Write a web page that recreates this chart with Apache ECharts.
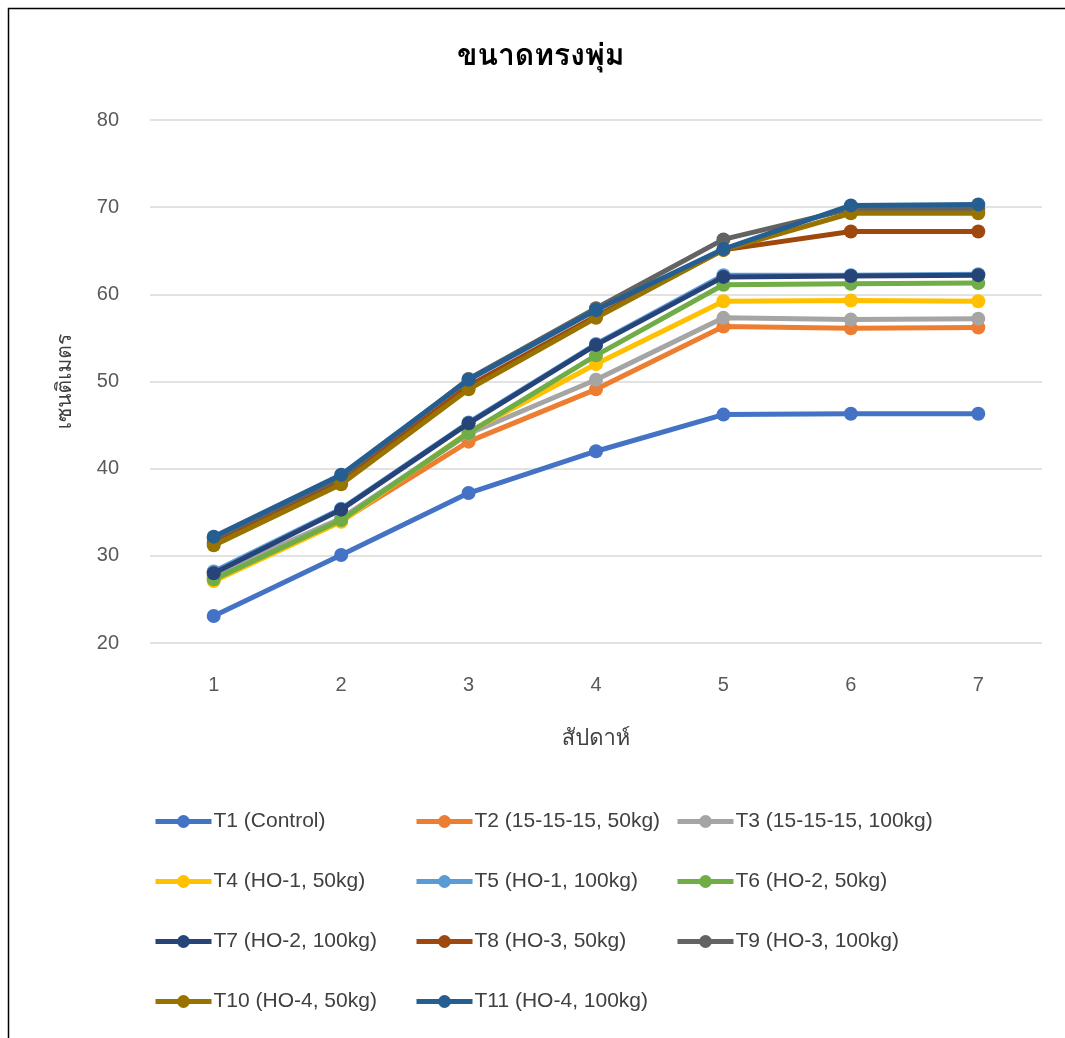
<!DOCTYPE html>
<html>
<head>
<meta charset="utf-8">
<script src="https://cdn.jsdelivr.net/npm/echarts@6/dist/echarts.min.js"></script>
<style>
  html, body { margin: 0; padding: 0; background: #fff; }
  #chart { width: 1065px; height: 1038px; }
</style>
</head>
<body>
<div id="chart"></div>
<script>
// Canopy size (cm) measured weekly for each fertilizer treatment
const weeks = ['1', '2', '3', '4', '5', '6', '7'];
const yTicks = [20, 30, 40, 50, 60, 70, 80];

const t1  = [23.1, 30.1, 37.2, 42.0, 46.2, 46.3, 46.3];
const t2  = [27.5, 34.0, 43.1, 49.1, 56.3, 56.1, 56.2];
const t3  = [27.8, 34.3, 44.0, 50.2, 57.3, 57.1, 57.2];
const t4  = [27.1, 33.9, 44.2, 52.0, 59.2, 59.3, 59.2];
const t5  = [28.2, 35.4, 45.3, 54.3, 62.2, 62.2, 62.3];
const t6  = [27.3, 34.1, 44.1, 53.0, 61.1, 61.2, 61.3];
const t7  = [28.0, 35.3, 45.2, 54.2, 62.0, 62.1, 62.2];
const t8  = [31.5, 38.5, 49.5, 57.5, 65.1, 67.2, 67.2];
const t9  = [32.0, 39.0, 50.3, 58.4, 66.3, 69.8, 69.8];
const t10 = [31.2, 38.2, 49.1, 57.3, 65.1, 69.3, 69.3];
const t11 = [32.2, 39.3, 50.2, 58.2, 65.2, 70.2, 70.3];

const seriesNames = [
  'T1 (Control)', 'T2 (15-15-15, 50kg)', 'T3 (15-15-15, 100kg)',
  'T4 (HO-1, 50kg)', 'T5 (HO-1, 100kg)', 'T6 (HO-2, 50kg)',
  'T7 (HO-2, 100kg)', 'T8 (HO-3, 50kg)', 'T9 (HO-3, 100kg)',
  'T10 (HO-4, 50kg)', 'T11 (HO-4, 100kg)'
];
const seriesValues = [t1, t2, t3, t4, t5, t6, t7, t8, t9, t10, t11];
const seriesColors = [
  '#4472C4', '#ED7D31', '#A5A5A5', '#FFC000', '#5B9BD5', '#70AD47',
  '#264478', '#9E480E', '#636363', '#997300', '#255E91'
];

const titleText = 'ขนาดทรงพุ่ม';
const xName = 'สัปดาห์';
const yName = 'เซนติเมตร';

const baseFont = '"Liberation Sans", Arial, "Noto Sans", sans-serif';
const thaiFont = 'Tahoma, Leelawadee, Loma, Garuda, "Noto Sans Thai Looped", "Noto Sans Thai", "Noto Sans", sans-serif';

const chart = echarts.init(document.getElementById('chart'), null, { renderer: 'canvas' });

const series = seriesNames.map((name, i) => ({
  name: name,
  type: 'line',
  data: seriesValues[i],
  symbol: 'circle',
  symbolSize: 14,
  showSymbol: true,
  z: 2 + i,
  lineStyle: { width: 5, color: seriesColors[i] },
  itemStyle: { color: seriesColors[i] },
  emphasis: { disabled: true }
}));

// one legend block per treatment, laid out in a 3-column grid
const legends = seriesNames.map((name, i) => ({
  data: [name],
  left: 148 + (i % 3) * 261,
  top: 806 + Math.floor(i / 3) * 60,
  itemWidth: 56,
  itemHeight: 16,
  itemGap: 0,
  selectedMode: false,
  lineStyle: { width: 5 },
  textStyle: { fontSize: 21, color: '#404040', fontFamily: baseFont, padding: [0, 0, 0, -3] }
}));

chart.setOption({
  animation: false,
  backgroundColor: '#ffffff',
  color: seriesColors,
  title: {
    text: titleText,
    left: 452,
    top: 38,
    textStyle: { fontSize: 30, fontWeight: 'bold', color: '#000', fontFamily: thaiFont }
  },
  graphic: [{
    type: 'rect',
    shape: { x: 8.5, y: 8.5, width: 1080, height: 1060 },
    style: { fill: 'none', stroke: '#000', lineWidth: 1.5 },
    silent: true,
    z: 100
  }],
  legend: legends,
  grid: { left: 150, right: 23, top: 120, bottom: 395, containLabel: false },
  xAxis: {
    type: 'category',
    data: weeks,
    boundaryGap: true,
    name: xName,
    nameLocation: 'middle',
    nameGap: 86,
    nameTextStyle: { fontSize: 22, color: '#404040', fontFamily: thaiFont },
    axisLine: { show: false },
    axisTick: { show: false },
    axisLabel: { fontSize: 20, color: '#595959', margin: 32, fontFamily: baseFont }
  },
  yAxis: {
    type: 'value',
    min: yTicks[0],
    max: yTicks[yTicks.length - 1],
    interval: 10,
    name: yName,
    nameLocation: 'middle',
    nameGap: 73,
    nameRotate: 90,
    nameTextStyle: { fontSize: 21, color: '#404040', fontFamily: thaiFont },
    axisLine: { show: false },
    axisTick: { show: false },
    axisLabel: { fontSize: 20, color: '#595959', margin: 31, fontFamily: baseFont },
    splitLine: { lineStyle: { color: '#d9d9d9', width: 1.5 } }
  },
  series: series
});
</script>
</body>
</html>
